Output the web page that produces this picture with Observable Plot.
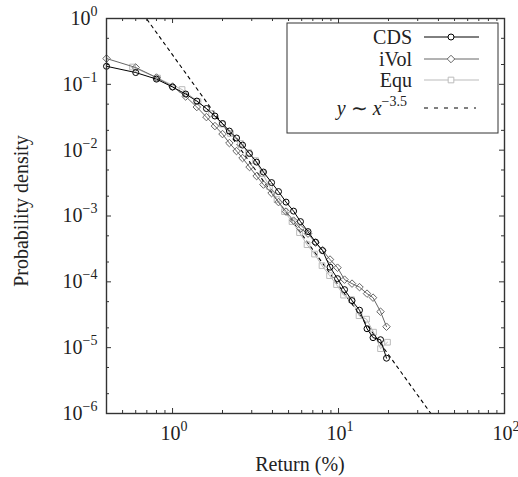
<!DOCTYPE html>
<html>
<head>
<meta charset="utf-8">
<script src="https://cdn.jsdelivr.net/npm/d3@7"></script>
<script src="https://cdn.jsdelivr.net/npm/@observablehq/plot@0.6"></script>
<style>
  body { margin: 0; background: #fff; }
  #chart { width: 518px; height: 477px; }
</style>
</head>
<body>
<div id="chart"></div>
<script>
// ---- data ----
const returnPct = [0.4, 0.6, 0.8, 1.0, 1.2, 1.4, 1.6, 1.8, 2.0, 2.2, 2.43, 2.64, 2.91, 3.21, 3.53, 3.95,
  4.35, 4.83, 5.36, 5.9, 6.55, 7.27, 8.01, 8.89, 9.86, 10.87, 12.06, 13.38, 14.85, 16.14, 17.91, 19.46];
const cdsDensity = [0.188, 0.151, 0.120, 0.0910, 0.0712, 0.0557, 0.0429, 0.0330, 0.0254, 0.0195, 0.0153,
  0.01195, 0.00888, 0.00659, 0.00465, 0.00322, 0.00235, 0.001626, 0.001187, 0.000822, 0.000579, 0.000401,
  0.000298, 0.000167, 0.0001118, 0.0000761, 0.0000518, 0.0000371, 0.0000194, 0.0000142, 0.0000132, 0.00000692];
const ivolDensity = [0.2467, 0.180, 0.1269, 0.0926, 0.0653, 0.0452, 0.0318, 0.02324, 0.01757, 0.01282, 0.00969,
  0.00759, 0.00554, 0.00404, 0.00300, 0.002228, 0.001626, 0.001166, 0.000851, 0.000643, 0.00054, 0.000394,
  0.000303, 0.000218, 0.000164, 0.000108, 0.0000939, 0.0000831, 0.0000662, 0.0000575, 0.0000352, 0.0000208];
const equReturn = [0.574, 0.812, 1.141, 1.424, 1.718, 1.987, 2.235, 2.568, 2.870, 3.162, 3.485, 3.840, 4.261,
  4.727, 5.247, 5.821, 6.461, 7.168, 7.953, 8.829, 9.727, 10.72, 11.97, 13.29, 14.75, 16.25, 17.91, 19.73];
const equDensity = [0.1833, 0.1247, 0.0834, 0.0548, 0.0360, 0.0249, 0.01788, 0.01260, 0.00919, 0.00695, 0.00441,
  0.00280, 0.001775, 0.001166, 0.000822, 0.000559, 0.000367, 0.000264, 0.0001763, 0.0001242, 0.0000907,
  0.0000628, 0.0000536, 0.0000306, 0.0000271, 0.0000172, 0.00000966, 0.0000121];
const powerExponent = -3.5;
const powerCoef = 0.28;
const powerX = [0.5, 40];
const seriesNames = ["CDS", "iVol", "Equ"];
const xMajorTicks = [1, 10, 100];
const yMajorTicks = [1e-6, 1e-5, 1e-4, 1e-3, 1e-2, 1e-1, 1];

// ---- derived tables ----
const cds = returnPct.map((x, i) => ({x, y: cdsDensity[i]}));
const ivol = returnPct.map((x, i) => ({x, y: ivolDensity[i]}));
const equ = equReturn.map((x, i) => ({x, y: equDensity[i]}));
const power = powerX.map(x => ({x, y: powerCoef * Math.pow(x, powerExponent)}));
const xMinorTicks = [];
for (const d of [0.1, 1, 10]) for (let k = 2; k <= 9; k++) { const v = +(k * d).toPrecision(3); if (v >= 0.4 && v <= 100) xMinorTicks.push(v); }
const yMinorTicks = [];
for (let e = -6; e < 0; e++) for (const k of [2, 5]) yMinorTicks.push(k * Math.pow(10, e));

const SERIF = "Liberation Serif";
const W = 518, H = 477, ML = 106, MR = 14, MT = 18, MB = 64;
const FW = W - ML - MR, FH = H - MT - MB;
const AX = "#333";

const diamond = {
  draw(ctx, size) { const s = Math.sqrt(size / 2); ctx.moveTo(0, -s); ctx.lineTo(s, 0); ctx.lineTo(0, s); ctx.lineTo(-s, 0); ctx.closePath(); }
};
const expFmt = d => "10^" + String(Math.round(Math.log10(d))).replace("-", "\u2212");

const plot = Plot.plot({
  width: W, height: H,
  marginLeft: ML, marginRight: MR, marginTop: MT, marginBottom: MB,
  style: {fontFamily: SERIF, fontSize: "20px"},
  x: {type: "log", domain: [0.4, 100]},
  y: {type: "log", domain: [1e-6, 1]},
  marks: [
    Plot.tickX(xMajorTicks, {x: d => d, insetTop: FH - 5, stroke: AX}),
    Plot.tickX(xMajorTicks, {x: d => d, insetBottom: FH - 5, stroke: AX}),
    Plot.tickX(xMinorTicks, {x: d => d, insetTop: FH - 3, stroke: AX}),
    Plot.tickX(xMinorTicks, {x: d => d, insetBottom: FH - 3, stroke: AX}),
    Plot.tickY(yMajorTicks, {y: d => d, insetRight: FW - 5, stroke: AX}),
    Plot.tickY(yMajorTicks, {y: d => d, insetLeft: FW - 5, stroke: AX}),
    Plot.tickY(yMinorTicks, {y: d => d, insetRight: FW - 3, stroke: AX}),
    Plot.tickY(yMinorTicks, {y: d => d, insetLeft: FW - 3, stroke: AX}),
    Plot.axisX({ticks: xMajorTicks, tickSize: 0, tickPadding: 12, tickFormat: expFmt, label: null, fontFamily: SERIF}),
    Plot.axisY({ticks: yMajorTicks, tickSize: 0, tickPadding: 9, tickFormat: expFmt, label: null, fontFamily: SERIF}),
    Plot.line(power, {x: "x", y: "y", stroke: "#000", strokeWidth: 1.1, strokeDasharray: "3,4", clip: true}),
    Plot.line(equ, {x: "x", y: "y", stroke: "#bbb", strokeWidth: 1}),
    Plot.dot(equ, {x: "x", y: "y", symbol: "square", r: 3.2, stroke: "#bbb", fill: "none", strokeWidth: 1}),
    Plot.line(ivol, {x: "x", y: "y", stroke: "#666", strokeWidth: 1}),
    Plot.dot(ivol, {x: "x", y: "y", symbol: diamond, r: 3, stroke: "#666", fill: "none", strokeWidth: 1}),
    Plot.line(cds, {x: "x", y: "y", stroke: "#000", strokeWidth: 1}),
    Plot.dot(cds, {x: "x", y: "y", symbol: "circle", r: 3, stroke: "#000", fill: "none", strokeWidth: 1}),
    Plot.frame({stroke: AX, strokeWidth: 1.4})
  ]
});

const svg = d3.select(plot);
svg.selectAll('g[aria-label="x-axis tick label"] text, g[aria-label="y-axis tick label"] text').each(function () {
  const [b, e] = this.textContent.split("^");
  const t = d3.select(this);
  t.text(null).attr("fill", "#222");
  t.append("tspan").text(b);
  t.append("tspan").attr("dy", -9).attr("font-size", 14).text(e);
});
svg.selectAll('g[aria-label="x-axis tick label"] text').attr("text-anchor", "start").attr("x", -12);

// axis titles
svg.append("text").attr("x", 300).attr("y", 471).attr("text-anchor", "middle")
  .attr("font-size", 20).attr("fill", "#222").text("Return (%)");
svg.append("text").attr("transform", "translate(28,211) rotate(-90)").attr("text-anchor", "middle")
  .attr("font-size", 20).attr("fill", "#222").text("Probability density");

// legend
const lg = svg.append("g").attr("font-size", 20).attr("fill", "#222");
lg.append("rect").attr("x", 287).attr("y", 23).attr("width", 211).attr("height", 110)
  .attr("fill", "white").attr("stroke", AX).attr("stroke-width", 1);
const legendStyle = [
  {name: seriesNames[0], cy: 37, stroke: "#000", sym: d3.symbol(d3.symbolCircle, Math.PI * 9)},
  {name: seriesNames[1], cy: 59, stroke: "#666", sym: d3.symbol(diamond, Math.PI * 9)},
  {name: seriesNames[2], cy: 80, stroke: "#bbb", sym: d3.symbol(d3.symbolSquare, Math.PI * 3.2 * 3.2)}
];
for (const s of legendStyle) {
  lg.append("text").attr("x", 412).attr("y", s.cy + 6.5).attr("text-anchor", "end").text(s.name);
  lg.append("line").attr("x1", 424).attr("x2", 479).attr("y1", s.cy).attr("y2", s.cy).attr("stroke", s.stroke);
  lg.append("path").attr("d", s.sym()).attr("transform", `translate(451,${s.cy})`)
    .attr("fill", "white").attr("stroke", s.stroke);
}
const pt = lg.append("text").attr("x", 407).attr("y", 115).attr("text-anchor", "end");
pt.append("tspan").attr("font-style", "italic").text("y");
pt.append("tspan").text(" \u223C ");
pt.append("tspan").attr("font-style", "italic").text("x");
pt.append("tspan").attr("dy", -9).attr("font-size", 14).text("\u22123.5");
lg.append("line").attr("x1", 424).attr("x2", 476).attr("y1", 108).attr("y2", 108)
  .attr("stroke", "#000").attr("stroke-dasharray", "4,6");

// every text: explicit serif family attribute
svg.selectAll("text, tspan").attr("font-family", SERIF);

document.getElementById("chart").append(plot);
</script>
</body>
</html>
